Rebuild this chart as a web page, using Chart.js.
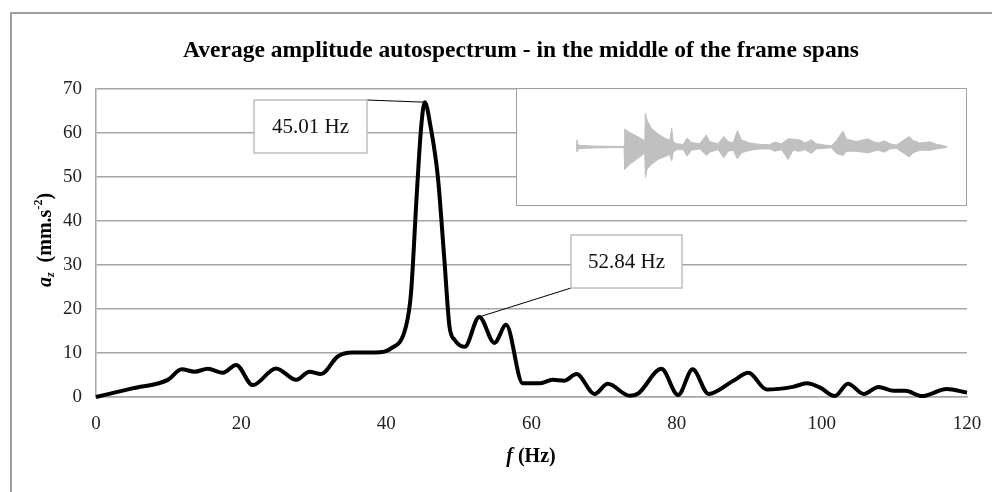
<!DOCTYPE html>
<html>
<head>
<meta charset="utf-8">
<script src="https://cdn.jsdelivr.net/npm/chart.js@4.4.1/dist/chart.umd.min.js"></script>
<style>
  html, body { margin: 0; padding: 0; background: #fff; }
  #wrap { position: relative; width: 992px; height: 492px; }
  #main { position: absolute; left: 0; top: 0; }
  #inset { position: absolute; left: 516px; top: 88px; width: 451px; height: 118px;
           box-sizing: border-box; border: 1.5px solid #a0a0a0; background: #fff; }
</style>
</head>
<body>
<div id="wrap">
  <canvas id="main" width="992" height="492"></canvas>
  <div id="inset"><canvas id="insetCanvas"></canvas></div>
</div>
<script>
// ---- main spectrum data (Hz, mm.s^-2) ----
const freqHz = [0, 5, 9.9, 11.8, 13.6, 15.4, 17.5, 19.3, 21.6, 24.8, 27.6, 29.4, 31.0, 33.3, 35.3, 38.5,
  40.6, 42.7, 43.4, 44.2, 44.8, 45.3, 46.1, 47.1, 48.0, 48.7, 49.4, 50.8, 52.8, 54.9, 56.5, 58.8,
  61.1, 62.9, 64.5, 66.2, 68.7, 70.5, 73.5, 74.7, 77.9, 80.2, 82.2, 84.4, 87.8, 89.9, 92.4, 96.0,
  97.9, 99.7, 101.8, 103.6, 105.8, 107.8, 109.9, 111.5, 113.8, 117.2, 120];
const ampAz = [0, 1.95, 3.9, 6.3, 5.75, 6.4, 5.5, 7.3, 2.7, 6.5, 3.9, 5.75, 5.2, 9.2, 10.1, 10.1,
  11.0, 16.0, 23.6, 46.3, 61.4, 67.0, 61.4, 50.0, 31.1, 16.0, 13.0, 11.4, 18.2, 12.3, 16.4, 3.1,
  3.1, 3.9, 3.7, 5.2, 0.7, 3.0, 0.3, 0.8, 6.4, 0.45, 6.3, 0.7, 3.7, 5.5, 1.7, 2.3,
  3.1, 2.2, 0.2, 3.0, 0.7, 2.3, 1.4, 1.4, 0.2, 1.8, 1.0];
const xTicksStep = 20;
const yTicksStep = 10;
const titleText = 'Average amplitude autospectrum - in the middle of the frame spans';
const peakLabels = ['45.01 Hz', '52.84 Hz'];
const peakFreq = [45.3, 52.8];
const peakAmp = [67.0, 18.2];

// ---- inset time signal envelope (s, arbitrary amplitude) ----
const sigTime = [0, 0.018, 0.045, 0.09, 0.45, 0.90, 1.285, 1.303, 1.438, 1.617, 1.797, 1.842, 1.860, 1.905,
  2.022, 2.201, 2.381, 2.516, 2.570, 2.606, 2.695, 2.875, 2.983, 3.100, 3.324, 3.504, 3.594, 3.819,
  3.971, 4.088, 4.223, 4.340, 4.447, 4.672, 4.942, 5.211, 5.346, 5.526, 5.705, 5.840, 6.020, 6.155,
  6.334, 6.469, 6.694, 6.873, 7.008, 7.188, 7.278, 7.547, 7.862, 7.996, 8.131, 8.311, 8.446, 8.625,
  8.967, 9.075, 9.254, 9.542, 9.704, 9.883, 10.0];
const sigUpper = [0, .22, .07, .05, .03, .02, .02, .55, .44, .34, .22, .17, 1.04, .82, .57, .40, .27, .20,
  .57, .17, .10, .08, .27, .14, .10, .37, .16, .10, .32, .17, .12, .50, .22, .12, .08, .07, .15, .10,
  .25, .24, .22, .12, .22, .10, .06, .04, .20, .49, .24, .17, .25, .17, .12, .19, .10, .06, .32, .20,
  .12, .16, .08, .05, 0];
const sigLower = [0, .15, .08, .05, .03, .02, .02, .68, .53, .38, .23, .18, .93, .68, .53, .38, .30, .23,
  .43, .18, .08, .08, .28, .10, .06, .26, .16, .08, .33, .13, .10, .36, .18, .10, .06, .06, .13, .08,
  .38, .10, .13, .08, .20, .06, .04, .02, .20, .26, .13, .13, .18, .13, .10, .16, .06, .04, .30, .18,
  .10, .10, .06, .03, 0];

const SERIF = "'Liberation Serif', 'Times New Roman', serif";
const GRID = '#a6a6a6';

const decorPlugin = {
  id: 'decor',
  beforeDraw(chart) {
    const ctx = chart.ctx;
    ctx.save();
    ctx.fillStyle = '#fff';
    ctx.fillRect(0, 0, chart.width, chart.height);
    ctx.strokeStyle = '#a0a0a0';
    ctx.lineWidth = 2;
    ctx.beginPath();
    ctx.moveTo(11, 492);
    ctx.lineTo(11, 13);
    ctx.lineTo(992, 13);
    ctx.stroke();
    ctx.restore();
  },
  afterDatasetsDraw(chart) {
    const ctx = chart.ctx;
    const xs = chart.scales.x, ys = chart.scales.y;
    ctx.save();
    // title
    ctx.fillStyle = '#000';
    ctx.font = 'bold 23.5px ' + SERIF;
    ctx.textAlign = 'center';
    ctx.textBaseline = 'middle';
    ctx.fillText(titleText, 521, 51);

    // annotation boxes
    const boxes = [
      {x: 254, y: 100, w: 113, h: 53, ax: 367, ay: 100},
      {x: 571, y: 235, w: 111, h: 53, ax: 571, ay: 288}
    ];
    boxes.forEach((b, i) => {
      const px = xs.getPixelForValue(peakFreq[i]);
      const py = ys.getPixelForValue(peakAmp[i]);
      ctx.strokeStyle = '#000';
      ctx.lineWidth = 1;
      ctx.beginPath();
      ctx.moveTo(b.ax, b.ay);
      ctx.lineTo(px, py);
      ctx.stroke();
      ctx.fillStyle = '#fff';
      ctx.fillRect(b.x, b.y, b.w, b.h);
      ctx.strokeStyle = '#bfbfbf';
      ctx.lineWidth = 1.5;
      ctx.strokeRect(b.x, b.y, b.w, b.h);
      ctx.fillStyle = '#111';
      ctx.font = '21px ' + SERIF;
      ctx.textAlign = 'center';
      ctx.textBaseline = 'middle';
      ctx.fillText(peakLabels[i], b.x + b.w / 2, b.y + b.h / 2 + 1);
    });

    // x axis title: f (Hz)
    ctx.fillStyle = '#000';
    ctx.textBaseline = 'middle';
    ctx.textAlign = 'left';
    ctx.font = 'bold italic 20px ' + SERIF;
    const fW = ctx.measureText('f').width;
    ctx.font = 'bold 20px ' + SERIF;
    const hzW = ctx.measureText(' (Hz)').width;
    let sx = 531 - (fW + hzW) / 2;
    ctx.font = 'bold italic 20px ' + SERIF;
    ctx.fillText('f', sx, 457);
    ctx.font = 'bold 20px ' + SERIF;
    ctx.fillText(' (Hz)', sx + fW, 457);

    // y axis title: a_z (mm.s^-2), rotated
    ctx.translate(46, 240);
    ctx.rotate(-Math.PI / 2);
    const parts = [
      {t: 'a', f: 'bold italic 20px ', dy: 0},
      {t: 'z', f: 'bold italic 12px ', dy: 5},
      {t: '  (mm.s', f: 'bold 20px ', dy: 0},
      {t: '-2', f: 'bold 12px ', dy: -7},
      {t: ')', f: 'bold 20px ', dy: 0}
    ];
    let total = 0;
    parts.forEach(p => { ctx.font = p.f + SERIF; p.w = ctx.measureText(p.t).width; total += p.w; });
    let cx = -total / 2;
    parts.forEach(p => {
      ctx.font = p.f + SERIF;
      ctx.fillText(p.t, cx, p.dy);
      cx += p.w;
    });
    ctx.restore();
  }
};

new Chart(document.getElementById('main'), {
  type: 'scatter',
  data: {
    datasets: [{
      data: freqHz.map((f, i) => ({x: f, y: ampAz[i]})),
      showLine: true,
      borderColor: '#000',
      borderWidth: 4,
      pointRadius: 0,
      cubicInterpolationMode: 'monotone',
      clip: 8
    }]
  },
  options: {
    responsive: false,
    animation: false,
    devicePixelRatio: 1,
    layout: { padding: { left: 0, right: 25, top: 89, bottom: 0 } },
    plugins: { legend: { display: false }, tooltip: { enabled: false }, title: { display: false } },
    scales: {
      x: {
        type: 'linear', min: 0, max: 120,
        afterFit(s) { s.height = 95; s.paddingLeft = 0; s.paddingRight = 0; },
        ticks: { stepSize: xTicksStep, color: '#222', font: { family: SERIF, size: 19 }, padding: 16, maxRotation: 0 },
        grid: { drawOnChartArea: false, drawTicks: false },
        border: { display: true, color: GRID, width: 1.5 }
      },
      y: {
        min: 0, max: 70,
        afterFit(s) { s.width = 96; s.paddingTop = 0; s.paddingBottom = 0; },
        ticks: { stepSize: yTicksStep, color: '#222', font: { family: SERIF, size: 19 }, padding: 14 },
        grid: { color: GRID, lineWidth: 1.5, drawTicks: false },
        border: { display: true, color: GRID, width: 1.5 }
      }
    }
  },
  plugins: [decorPlugin]
});

new Chart(document.getElementById('insetCanvas'), {
  type: 'scatter',
  data: {
    datasets: [
      {
        data: sigTime.map((t, i) => ({x: t, y: sigUpper[i]})),
        showLine: true, borderColor: '#c0c0c0', borderWidth: 1, pointRadius: 0,
        backgroundColor: '#c0c0c0', fill: '+1', tension: 0
      },
      {
        data: sigTime.map((t, i) => ({x: t, y: -sigLower[i]})),
        showLine: true, borderColor: '#c0c0c0', borderWidth: 1, pointRadius: 0, fill: false, tension: 0
      }
    ]
  },
  options: {
    responsive: true, maintainAspectRatio: false, animation: false,
    layout: { padding: 0 },
    plugins: { legend: { display: false }, tooltip: { enabled: false } },
    scales: {
      x: { type: 'linear', min: -1.6, max: 10.5, display: false },
      y: { min: -1.77, max: 1.77, display: false }
    }
  }
});
</script>
</body>
</html>
